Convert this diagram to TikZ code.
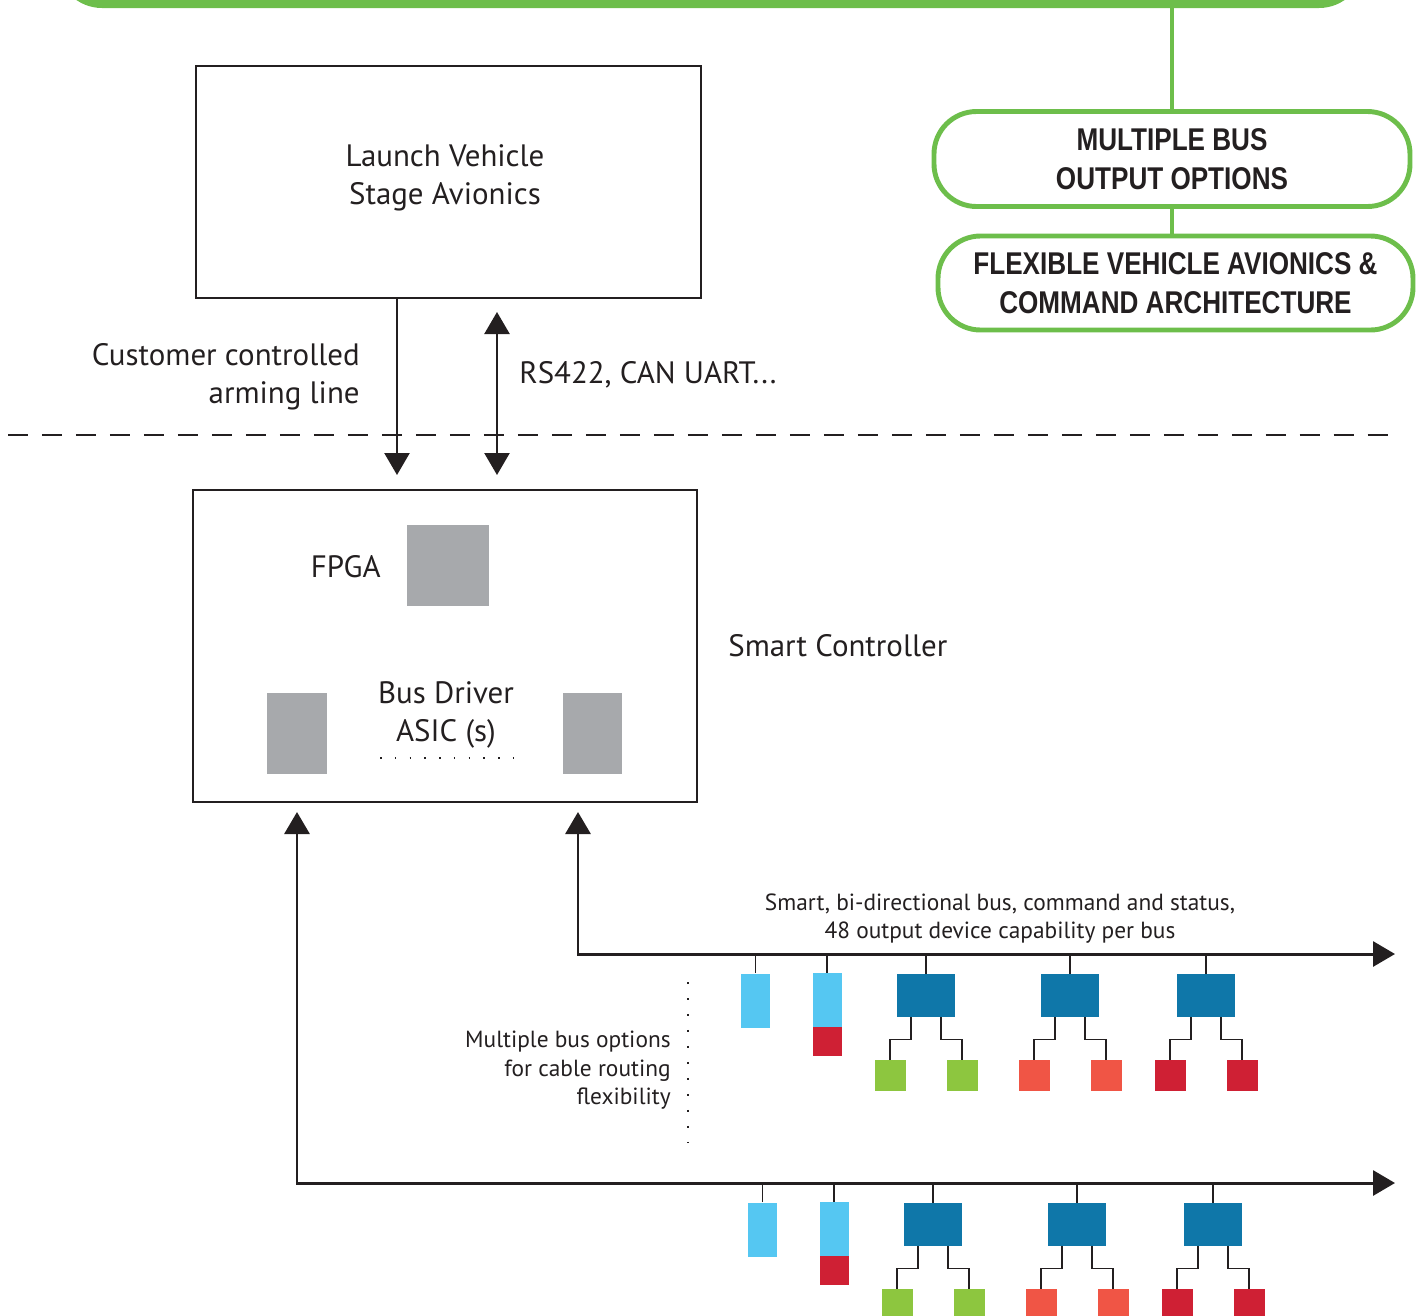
\documentclass[tikz,border=0pt]{standalone}
\usepackage{fontspec}
\setmainfont{PT Sans}
\newfontfamily\headfont{Liberation Sans}[FakeStretch=0.83]
\usetikzlibrary{arrows.meta}
\definecolor{ink}{RGB}{35,31,32}
\definecolor{busgreen}{RGB}{109,190,75}
\definecolor{chipgrey}{RGB}{167,169,172}
\definecolor{sky}{RGB}{85,199,242}
\definecolor{hubblue}{RGB}{15,119,169}
\definecolor{crimson}{RGB}{207,32,52}
\definecolor{salmon}{RGB}{240,85,69}
\definecolor{leafgreen}{RGB}{141,198,63}
\tikzset{
  sz/.style 2 args={minimum width=#1*0.02cm,minimum height=#2*0.02cm,inner sep=0pt},
  frame/.style={draw=ink,line width=1.4pt},
  chip/.style={fill=chipgrey,inner sep=0pt},
  big/.style={font=\fontsize{17.6}{21.6}\selectfont,text=ink,inner sep=0pt},
  small/.style={font=\fontsize{13.3}{16.2}\selectfont,text=ink,inner sep=0pt},
  gbox/.style={draw=busgreen,line width=2.8pt,rounded corners=0.85cm,align=center,text=ink,
    font=\headfont\bfseries\fontsize{17.9}{22.2}\selectfont},
  gline/.style={draw=busgreen,line width=2.8pt},
  wire/.style={draw=ink,line width=1.4pt},
  bus/.style={draw=ink,line width=1.7pt},
  stub/.style={draw=ink,line width=0.85pt},
  single/.style={fill=sky,sz={29}{54}},
  hub/.style={fill=hubblue,sz={58}{43}},
  leaf/.style={sz={31}{31}}
}
\begin{document}
\begin{tikzpicture}[x=0.02cm,y=-0.02cm,>={Triangle[length=0.44cm,width=0.5cm]}]
\useasboundingbox (0,0) rectangle (1418,1316);
\begin{scope}
\clip (0,0) rectangle (1418,1316);
\fill[busgreen,rounded corners=0.9cm] (57,-90) rectangle (1364,8);
\end{scope}
\coordinate (bar) at (1172,8);
\node[gbox,sz={476}{95}] (mbo) at (1172,159) {MULTIPLE BUS\\OUTPUT OPTIONS};
\node[gbox,sz={475}{94}] (fva) at (1175.5,283) {FLEXIBLE VEHICLE AVIONICS \&\\COMMAND ARCHITECTURE};
\draw[gline] (bar) -- (mbo.north);
\draw[gline] (mbo.south) -- (fva.north -| mbo.south);

\node[frame,sz={505}{232}] (lvsa) at (448.5,182) {};
\node[big,align=center] (lvsalbl) at (445,178) {Launch Vehicle\\Stage Avionics};
\coordinate (armtip) at (397,475);
\coordinate (sertop) at (497,312);
\coordinate (serbot) at (497,475);
\draw[wire,->] (lvsa.south -| armtip) -- (armtip);
\draw[wire,<->] (sertop) -- (serbot);
\node[big,align=right,anchor=east] (arm) at (360,377) {Customer controlled\\arming line};
\node[big,anchor=west] (ser) at (519,375) {RS422, CAN UART...};
\draw[ink,line width=1.1pt,dash pattern=on 0.4cm off 0.28cm] (8,435) -- (1395,435);

\node[frame,sz={504}{312}] (sc) at (445,646) {};
\node[chip,sz={82}{81}] (fpga) at (448,565.5) {};
\node[chip,sz={60}{81}] (asicl) at (297,733.5) {};
\node[chip,sz={59}{81}] (asicr) at (592.5,733.5) {};
\node[big,anchor=east] (fpgalbl) at (381,567) {FPGA};
\node[big,align=center] (asiclbl) at (446,715) {Bus Driver\\ASIC (s)};
\draw[ink,line width=0.9pt,dash pattern=on 0.9pt off 7.5pt] (380,758) -- (514,758);
\node[big,anchor=west] (sclbl) at (728,646) {Smart Controller};

\coordinate (a-up) at (578,812);
\coordinate (b-up) at (297,812);
\coordinate (a-end) at (1395,954);
\coordinate (b-end) at (1395,1183);
\draw[bus,<->] (a-up) |- (a-end);
\draw[bus,<->] (b-up) |- (b-end);
\node[small,align=center] (buslbl) at (1000,918.5) {Smart, bi-directional bus, command and status,\\48 output device capability per bus};
\node[small,align=right,anchor=east] (optlbl) at (671,1070.5) {Multiple bus options\\for cable routing\\flexibility};
\draw[ink,line width=1.1pt,dash pattern=on 1.1pt off 8pt] (688,982) -- (688,1143);

\foreach \r/\dx/\dy in {a/0/0,b/7/229}{
\begin{scope}[shift={(\dx,\dy)}]
\node[single] (\r-s1) at (755.5,1000.5) {};
\node[single] (\r-s2) at (827,1000) {};
\node[leaf,fill=crimson,sz={29}{29}] (\r-s2x) at (827,1041.5) {};
\draw[stub] (\r-s1.north) -- (\r-s1.north |- \r-end);
\draw[stub] (\r-s2.north) -- (\r-s2.north |- \r-end);
\foreach \k/\hx/\cl in {1/926/leafgreen,2/1070/salmon,3/1206/crimson}{
\node[hub] (\r-h\k) at (\hx,995.5) {};
\node[leaf,fill=\cl] (\r-l\k) at (\hx-36,1075.5) {};
\node[leaf,fill=\cl] (\r-r\k) at (\hx+36,1075.5) {};
\draw[stub] (\r-h\k.north) -- (\r-h\k.north |- \r-end);
\draw[stub] ([xshift=-0.3cm]\r-h\k.south) -- ++(0,22) -| (\r-l\k.north);
\draw[stub] ([xshift=0.3cm]\r-h\k.south) -- ++(0,22) -| (\r-r\k.north);
}
\end{scope}
}
\end{tikzpicture}
\end{document}
